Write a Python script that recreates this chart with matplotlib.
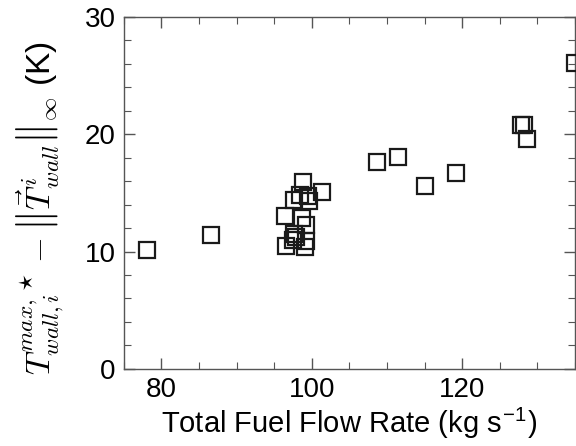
import matplotlib
matplotlib.use("Agg")
import matplotlib.pyplot as plt
from matplotlib.ticker import MultipleLocator

plt.rcParams['font.family'] = ['Liberation Sans', 'DejaVu Sans']
plt.rcParams['mathtext.fontset'] = 'cm'

# total fuel flow rate (kg/s) and wall temperature margin (K)
flow_rate = [78.1, 86.6,
             98.9, 101.3, 97.6, 98.5, 99.5, 99.6,
             96.4, 98.7, 99.2,
             97.7, 97.5, 97.9, 99.3, 96.6, 99.1,
             108.7, 111.5, 115.0, 119.2,
             127.8, 128.2, 128.7, 135.0]
temp_margin = [10.1, 11.4,
               15.9, 15.1, 14.4, 14.8, 14.7, 14.3,
               13.0, 12.9, 12.3,
               11.5, 11.0, 11.2, 10.9, 10.5, 10.4,
               17.6, 18.1, 15.6, 16.7,
               20.8, 20.8, 19.6, 26.1]

fig = plt.figure(figsize=(5.76, 4.46), dpi=100)
ax = fig.add_axes([0.215, 0.173, 0.783, 0.789])

ax.plot(flow_rate, temp_margin, linestyle='none', marker='s', markersize=11,
        markerfacecolor='none', markeredgecolor='#1a1a1a', markeredgewidth=1.6,
        clip_on=False, zorder=3)

ax.set_xlim(75, 135)
ax.set_ylim(0, 30)
ax.xaxis.set_major_locator(MultipleLocator(20))
ax.xaxis.set_minor_locator(MultipleLocator(5))
ax.yaxis.set_major_locator(MultipleLocator(10))
ax.yaxis.set_minor_locator(MultipleLocator(2))

ax.tick_params(which='both', direction='in', top=True, right=True,
               color='#555555', labelsize=20, pad=6)
ax.tick_params(which='major', length=8, width=1.0)
ax.tick_params(which='minor', length=5, width=0.8)
for s in ax.spines.values():
    s.set_color('#555555')
    s.set_linewidth(1.0)

ax.set_xlabel(r'Total Fuel Flow Rate (kg s$^{\mathregular{-1}}$)', fontsize=21, labelpad=2)
ax.set_ylabel(r'$T^{max,\star}_{wall,i} - \left\|\vec{T}^{\,i}_{wall}\right\|_{\infty}$ (K)',
              fontsize=24)
ax.yaxis.set_label_coords(-0.13, 0.455)

fig.savefig('out.png', dpi=100)
